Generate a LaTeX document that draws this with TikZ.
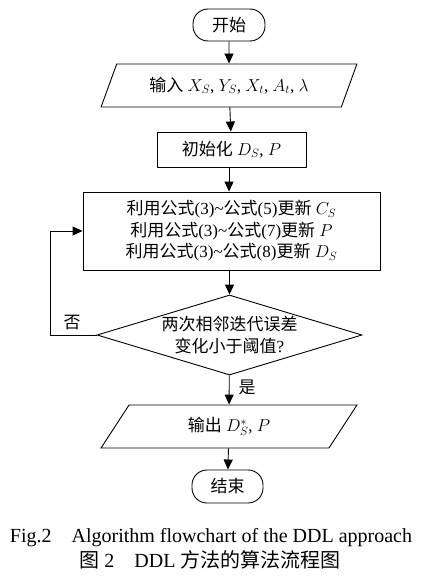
\documentclass[tikz,border=0pt]{standalone}
\usepackage{amsmath, amssymb}
\usepackage{fontspec}
\setmainfont{Liberation Serif}
\newfontfamily\cjk{Noto Sans CJK SC}
\usetikzlibrary{shapes.geometric, arrows.meta}

\newcommand{\zh}[1]{{\cjk #1}}

\tikzset{
    terminal/.style={draw, line width=0.9pt, rounded corners=15pt, minimum width=72pt, minimum height=32pt},
    iobox/.style={draw, line width=0.9pt, trapezium, trapezium left angle=64, trapezium right angle=116,
        trapezium stretches=true, minimum width=256pt, minimum height=43pt},
    procbox/.style={draw, line width=0.9pt, rectangle, align=center},
    decision/.style={draw, line width=0.9pt, diamond, aspect=3.3, inner sep=0pt, align=center},
    arr/.style={-{Triangle[length=10pt, width=9pt]}, line width=0.9pt}
}

\begin{document}
\begin{tikzpicture}[x=1pt, y=-1pt, font=\fontsize{17}{21.5}\selectfont]
    \useasboundingbox (0, 0) rectangle (425, 583);
    \node[terminal] (start) at (229, 25) {\zh{开始}};
    \node[iobox] (input) at (229, 85.5) {\zh{输入} $X_S$, $Y_S$, $X_t$, $A_t$, $\lambda$};
    \node[procbox, minimum width=149pt, minimum height=35pt] (init) at (231.5, 149.5) {\zh{初始化} $D_S$, $P$};
    \node[procbox, minimum width=297pt, minimum height=78pt] (update) at (231.5, 231) {%
        \zh{利用公式}(3)\textasciitilde\zh{公式}(5)\zh{更新} $C_S$\\
        \zh{利用公式}(3)\textasciitilde\zh{公式}(7)\zh{更新} $P$\\
        \zh{利用公式}(3)\textasciitilde\zh{公式}(8)\zh{更新} $D_S$};
    \node[decision, minimum width=265pt, minimum height=80pt] (check) at (229.5, 335) {\zh{两次相邻迭代误差}\\\zh{变化小于阈值}?};
    \node[iobox] (output) at (229, 426.5) {\zh{输出} $D_S^{*}$, $P$};
    \node[terminal, minimum width=71pt, minimum height=33pt] (stop) at (227.5, 486.5) {\zh{结束}};

    \draw[arr] (start) -- (input);
    \draw[arr] (input) -- (init);
    \draw[arr] (init.south -| input.north) -- (input.north |- update.north);
    \draw[arr] (update.south -| check.north) -- (check);
    \draw[arr] (check) -- (output);
    \draw[arr] (output) -- (stop);
    \draw[arr] (check.west) -- (50, 335) |- (update.west);

    \node (no) at (72, 323) {\zh{否}};
    \node (yes) at (247, 387) {\zh{是}};

    \node[font=\fontsize{20}{24}\selectfont] (cap1) at (211, 538) {Fig.2\quad Algorithm flowchart of the DDL approach};
    \node[font=\fontsize{20}{24}\selectfont] (cap2) at (210, 560) {\zh{图} 2\quad DDL \zh{方法的算法流程图}};
\end{tikzpicture}
\end{document}
